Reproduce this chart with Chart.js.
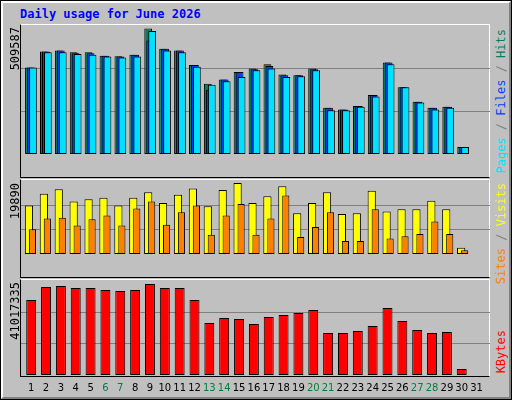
<!DOCTYPE html>
<html>
<head>
<meta charset="utf-8">
<script src="https://cdn.jsdelivr.net/npm/chart.js@4/dist/chart.umd.min.js"></script>
<style>
  html,body{margin:0;padding:0;}
  body{width:512px;height:400px;position:relative;overflow:hidden;background:#000;}
  #frame{position:absolute;left:1px;top:1px;width:506px;height:394px;background:#c0c0c0;
    border-top:2px solid #fff;border-left:2px solid #fff;border-right:2px solid #808080;border-bottom:2px solid #808080;}
  .panel{position:absolute;left:20px;width:470px;border-top:1px solid #fff;border-right:1px solid #fff;
    border-left:1px solid #000;border-bottom:1px solid #000;box-sizing:border-box;}
  canvas{position:absolute;}
  .vlab{position:absolute;writing-mode:vertical-rl;transform:rotate(180deg);
    font:12px "DejaVu Sans Mono",monospace;white-space:nowrap;line-height:12px;}
  #title{position:absolute;left:20px;top:7px;font:bold 12px "DejaVu Sans Mono",monospace;color:#0000ff;}
</style>
</head>
<body>
<div id="frame"></div>
<div id="title">Daily usage for June 2026</div>
<div class="panel" style="top:24px;height:154px"></div>
<div class="panel" style="top:179px;height:99px"></div>
<div class="panel" style="top:279px;height:98px"></div>

<canvas id="c1" style="left:21px;top:25px;width:469px;height:152px"></canvas>
<canvas id="c2" style="left:21px;top:180px;width:469px;height:97px"></canvas>
<canvas id="c3" style="left:21px;top:280px;width:469px;height:118px"></canvas>

<div class="vlab" style="left:9px;top:27px;color:#000">509587</div>
<div class="vlab" style="left:9px;top:183px;color:#000">19890</div>
<div class="vlab" style="left:9px;top:282px;color:#000">41017335</div>
<div class="vlab" style="left:495px;top:29px"><span style="color:#00e0ff">Pages</span><span style="color:#808080"> / </span><span style="color:#0040ff">Files</span><span style="color:#808080"> / </span><span style="color:#00805c">Hits</span></div>
<div class="vlab" style="left:495px;top:183px"><span style="color:#ff8000">Sites</span><span style="color:#808080"> / </span><span style="color:#ffff00">Visits</span></div>
<div class="vlab" style="left:495px;top:330px;color:#ff0000">KBytes</div>

<script>
var days = [];
for (var d = 1; d <= 31; d++) days.push(String(d));
var weekendDays = ['6','7','13','14','20','21','27','28'];

var hits = [350480,416200,419660,412740,412740,398900,396600,402370,509587,426570,419660,360860,284770,302060,333190,347020,364320,322810,319350,347020,187920,181000,194840,239800,371240,270930,212130,187920,191380,28820,0];
var files = [350480,416200,419660,409280,409280,398900,395450,402370,460010,426570,419660,360860,260560,302060,333190,343560,357400,319350,319350,343560,187920,181000,194840,239800,371240,270930,212130,187920,191380,28820,0];
var pages = [350480,412740,412740,405820,402370,395450,391990,395450,499210,419660,412740,353940,281310,295140,312440,340100,347020,312440,315900,340100,177550,177550,191380,232890,364320,270930,208680,181000,187920,28820,0];
var visits = [13621,16864,18162,14702,15351,15783,13621,15783,17297,14270,16648,18378,13405,17945,19890,14270,16216,19026,11459,14270,17297,11243,11459,17729,11892,12540,12540,14918,12540,1730,0];
var sites = [6919,9946,10162,8000,9729,10810,8000,12756,14702,8216,11675,13621,5405,10810,14054,5405,9946,16432,4757,7567,11675,3676,3676,12540,4324,4973,5621,9081,5621,1081,0];
var kbytes = [33810000,39670000,40120000,39210000,39210000,38310000,37860000,38310000,41017335,39210000,39210000,33810000,23440000,25690000,25240000,22990000,26140000,27040000,27950000,29300000,18930000,18930000,19830000,22090000,30200000,24340000,20280000,18930000,19380000,2700000,0];

// shift each dataset sideways a few pixels so the bars overlap like the original
var shiftPlugin = {
  id: 'shift',
  beforeDatasetDraw: function(chart, args){
    var s = chart.data.datasets[args.index].shift || 0;
    chart.ctx.save(); chart.ctx.translate(s, 0);
  },
  afterDatasetDraw: function(chart){ chart.ctx.restore(); }
};
// full-width grid lines at the y ticks
var gridPlugin = {
  id: 'fullgrid',
  beforeDatasetsDraw: function(chart){
    var y = chart.scales.y, ctx = chart.ctx;
    ctx.save(); ctx.strokeStyle = '#808080'; ctx.lineWidth = 1;
    y.ticks.forEach(function(t){
      if (t.value <= 0 || t.value >= y.max) return;
      var py = Math.round(y.getPixelForValue(t.value)) + 0.5;
      ctx.beginPath(); ctx.moveTo(0, py); ctx.lineTo(chart.width, py); ctx.stroke();
    });
    ctx.restore();
  }
};

function makeChart(id, datasets, yMax, showX){
  return new Chart(document.getElementById(id), {
    type: 'bar',
    data: { labels: days, datasets: datasets },
    plugins: [gridPlugin, shiftPlugin],
    options: {
      responsive: false, animation: false, devicePixelRatio: 1,
      layout: { padding: { left: 2.5, right: 4.5, top: 0, bottom: 0 } },
      plugins: { legend: { display: false }, tooltip: { enabled: false } },
      scales: {
        x: {
          display: showX, grid: { display: false, drawTicks: false }, border: { display: false },
          afterFit: function(s){ s.height = 23; },
          ticks: {
            autoSkip: false, maxRotation: 0, padding: 7,
            font: { family: 'DejaVu Sans', size: 10 },
            color: function(c){ return weekendDays.indexOf(days[c.index]) >= 0 ? '#008040' : '#000'; }
          }
        },
        y: { display: false, min: 0, max: yMax, ticks: { stepSize: yMax / 3 } }
      }
    }
  });
}

function ds(data, color, pct, shift, order){
  return { data: data, backgroundColor: color, borderColor: '#000', borderWidth: 1,
    grouped: false, barPercentage: pct, categoryPercentage: 1, shift: shift, order: order, borderSkipped: false };
}

var c1 = document.getElementById('c1'); c1.width = 469; c1.height = 152;
var c2 = document.getElementById('c2'); c2.width = 469; c2.height = 97;
var c3 = document.getElementById('c3'); c3.width = 469; c3.height = 118;

makeChart('c1', [ds(hits, '#00805c', 0.52, -2, 3), ds(files, '#0040ff', 0.52, 0, 2), ds(pages, '#00e0ff', 0.52, 2, 1)], 523400, false);
makeChart('c2', [ds(visits, '#ffff00', 0.55, -2, 2), ds(sites, '#ff8000', 0.48, 1.5, 1)], 20755, false);
makeChart('c3', [ds(kbytes, '#ff0000', 0.67, 0, 1)], 42820000, true);
</script>
</body>
</html>
